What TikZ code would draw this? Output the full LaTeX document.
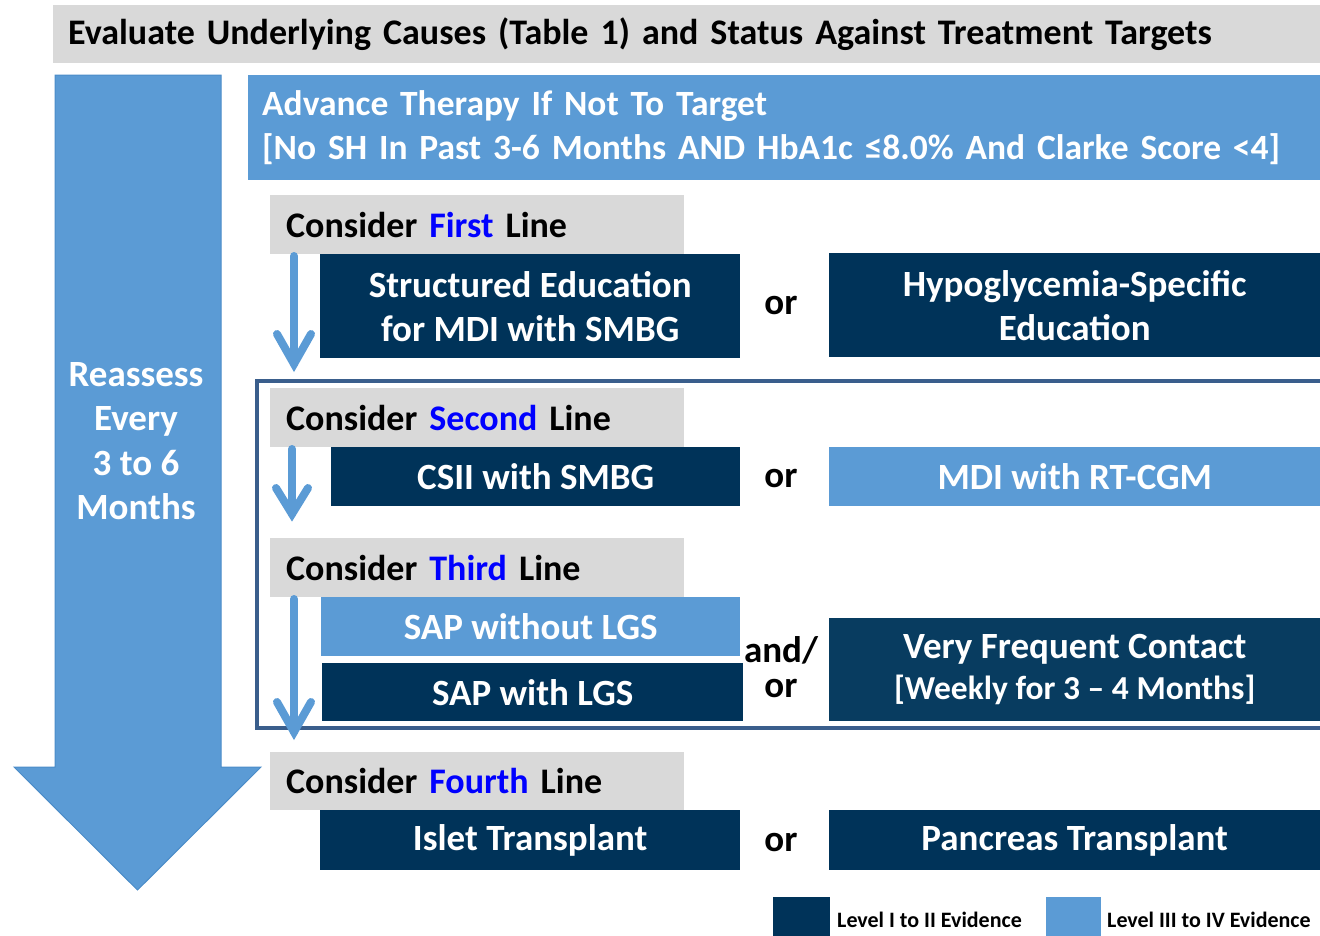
\documentclass[tikz,border=0pt]{standalone}
\usepackage{fontspec}
\setmainfont{Carlito}
\definecolor{lb}{RGB}{91,155,213}
\definecolor{lbedge}{RGB}{75,140,200}
\definecolor{db}{RGB}{0,51,89}
\definecolor{dbb}{RGB}{8,60,96}
\definecolor{gr}{RGB}{217,217,217}
\definecolor{fr}{RGB}{58,94,140}
\definecolor{bw}{RGB}{0,0,255}
\newcommand\myfs[2]{\fontsize{#1}{#2}\selectfont}
\begin{document}
\begin{tikzpicture}[x=1pt,y=-1pt,
  base/.style={anchor=north west, inner sep=0pt, font=\bfseries\myfs{37}{44}},
  dark/.style={base, fill=db, text=white, align=center},
  light/.style={base, fill=lb, text=white, align=center},
  graybox/.style={base, fill=gr, text=black, align=left, inner xsep=16pt, text width=382pt, minimum height=59pt, font=\bfseries\myfs{36}{44}},
  orlabel/.style={inner sep=0pt, font=\bfseries\myfs{37}{35}, align=center},
  shaft/.style={lb, line width=8pt, line cap=round},
  barb/.style={lb, line width=8pt, line cap=round, line join=miter},
  legtext/.style={anchor=west, inner sep=0pt, font=\bfseries\myfs{22}{24}}
]
\useasboundingbox (0,0) rectangle (1320,935);

% title
\node[base, fill=gr, align=left, inner xsep=15pt, text width=1237pt, minimum height=58pt, font=\bfseries\myfs{36}{44}] (title) at (53,5)
  {Evaluate Underlying Causes (Table 1) and Status Against Treatment Targets};

% big arrow
\fill[lb, draw=lbedge, line width=1pt] (55,75) -- (221,75) -- (221,767) -- (261,767) -- (137.5,890) -- (14,767) -- (55,767) -- cycle;
\node[inner sep=0pt, text=white, font=\bfseries\myfs{37}{44.5}, align=center] (reassess) at (136,441)
  {Reassess\\Every\\3 to 6\\Months};

% advance therapy
\node[base, fill=lb, text=white, align=left, inner xsep=14pt, text width=1044pt, minimum height=105pt, font=\bfseries\myfs{35.5}{44}] (adv) at (248,75)
  {Advance Therapy If Not To Target\\{}[No SH In Past 3-6 Months AND HbA1c ≤8.0\% And Clarke Score <4]};

% frame around second and third line
\draw[fr, line width=4pt] (1324,381) -- (257,381) -- (257,728) -- (1324,728);

% first line
\node[graybox] (c1) at (270,195) {Consider \textcolor{bw}{First} Line};
\node[dark, minimum width=420pt, minimum height=104pt] (se) at (320,254) {Structured Education\\for MDI with SMBG};
\node[orlabel] (or1) at (781,305) {or};
\node[dark, minimum width=491pt, minimum height=104pt] (hs) at (829,253) {Hypoglycemia-Specific\\Education};

% second line
\node[graybox] (c2) at (270,388) {Consider \textcolor{bw}{Second} Line};
\node[dark, minimum width=409pt, minimum height=59pt] (csii) at (331,447) {CSII with SMBG};
\node[orlabel] (or2) at (781,478) {or};
\node[light, minimum width=491pt, minimum height=59pt] (mdi) at (829,447) {MDI with RT-CGM};

% third line
\node[graybox] (c3) at (270,538) {Consider \textcolor{bw}{Third} Line};
\node[light, minimum width=419pt, minimum height=59pt] (sapw) at (321,597) {SAP without LGS};
\node[dark, minimum width=421pt, minimum height=58pt] (sapl) at (322,663) {SAP with LGS};
\node[orlabel] (andor) at (781,667) {and/\\or};
\node[dark, fill=dbb, minimum width=491pt, minimum height=103pt] (vfc) at (829,618)
  {Very Frequent Contact\\[-3pt]{\myfs{33.5}{40}[Weekly for 3 -- 4 Months]}};

% fourth line
\node[graybox, minimum height=58pt] (c4) at (270,752) {Consider \textcolor{bw}{Fourth} Line};
\node[dark, minimum width=420pt, minimum height=60pt] (islet) at (320,810) {Islet Transplant};
\node[orlabel] (or4) at (781,842) {or};
\node[dark, minimum width=491pt, minimum height=60pt] (pan) at (829,810) {Pancreas Transplant};

% small arrows
\coordinate (a1s) at (294,256);
\coordinate (a1e) at (294,364);
\draw[shaft] (a1s) -- (a1e);
\draw[barb] (277,334) -- (a1e) -- (311,334);

\coordinate (a2s) at (292,449);
\coordinate (a2e) at (292,514);
\draw[shaft] (a2s) -- (a2e);
\draw[barb] (276,488) -- (a2e) -- (308,488);

\coordinate (a3s) at (294,599);
\coordinate (a3e) at (294,732);
\draw[shaft] (a3s) -- (a3e);
\draw[barb] (277,702) -- (a3e) -- (311,702);

% legend
\node[base, fill=db, minimum width=57pt, minimum height=40pt] (leg1) at (773,897) {};
\node[legtext] (leg1t) at (837,920) {Level I to II Evidence};
\node[base, fill=lb, minimum width=55pt, minimum height=40pt] (leg2) at (1046,897) {};
\node[legtext] (leg2t) at (1107,920) {Level III to IV Evidence};
\end{tikzpicture}
\end{document}
